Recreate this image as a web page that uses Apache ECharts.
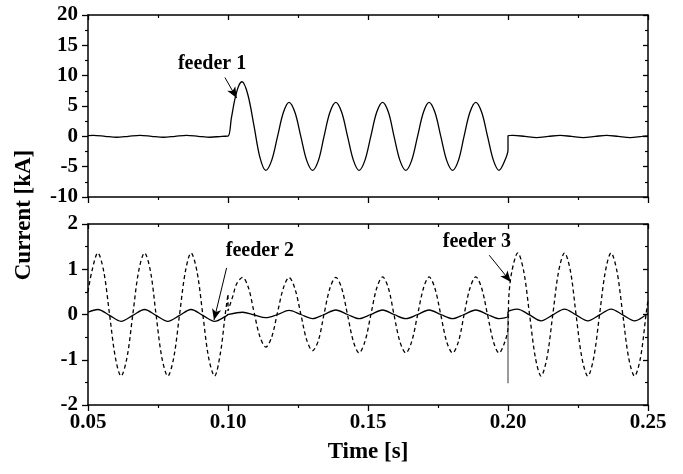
<!DOCTYPE html>
<html><head><meta charset="utf-8">
<script src="https://cdn.jsdelivr.net/npm/echarts@6/dist/echarts.min.js"></script>
<style>html,body{margin:0;padding:0;background:#fff}#c{width:683px;height:474px}</style>
</head><body><div id="c"></div>
<script>
// ---- data (time in s, current in kA) ----
const f1T = [0.0500,0.0519,0.0561,0.0602,0.0644,0.0686,0.0727,0.0769,0.0811,0.0852,0.0894,0.0936,0.0978,0.1000,
  0.1012,0.1025,0.1038,0.1050,0.1071,0.1093,0.1114,0.1135,
  0.1156,0.1177,0.1198,0.1218,0.1239,0.1260,0.1281,0.1302,0.1323,0.1343,0.1364,0.1385,0.1406,0.1427,0.1448,0.1468,
  0.1489,0.1510,0.1531,0.1552,0.1573,0.1593,0.1614,0.1635,0.1656,0.1677,0.1698,0.1718,0.1739,0.1760,0.1781,0.1802,
  0.1823,0.1843,0.1864,0.1885,0.1906,0.1927,0.1948,0.1968,0.1989,0.2000,
  0.2000,0.2019,0.2061,0.2102,0.2144,0.2186,0.2227,0.2269,0.2311,0.2352,0.2394,0.2436,0.2478,0.2500];
const f1V = [0.11,0.15,0,-0.15,0,0.15,0,-0.15,0,0.15,0,-0.15,0,0.02,
  3.0,6.2,8.3,9.0,6.86,1.7,-3.46,-5.6,
  -3.96,0,3.96,5.6,3.96,0,-3.96,-5.6,-3.96,0,3.96,5.6,3.96,0,-3.96,-5.6,
  -3.96,0,3.96,5.6,3.96,0,-3.96,-5.6,-3.96,0,3.96,5.6,3.96,0,-3.96,-5.6,
  -3.96,0,3.96,5.6,3.96,0,-3.96,-5.6,-3.96,-2.2,
  0.1,0.16,-0.02,-0.2,-0.02,0.16,-0.02,-0.2,-0.02,0.16,-0.02,-0.2,-0.02,0.08];

const f3T = [0.0500,0.0514,0.0535,0.0556,0.0577,0.0598,0.0618,0.0639,0.0660,0.0681,0.0702,0.0723,0.0743,0.0764,0.0785,0.0806,
  0.0827,0.0848,0.0868,0.0889,0.0910,0.0931,0.0952,0.0973,0.0990,0.1000,
  0.1000,0.1017,0.1031,0.1052,0.1073,0.1093,0.1114,0.1135,0.1156,0.1177,0.1198,0.1218,0.1239,0.1260,0.1281,0.1302,
  0.1323,0.1343,0.1364,0.1385,
  0.1406,0.1427,0.1448,0.1468,0.1489,0.1510,0.1531,0.1552,0.1573,0.1593,0.1614,0.1635,0.1656,0.1677,0.1698,0.1718,
  0.1739,0.1760,0.1781,0.1802,0.1823,0.1843,0.1864,0.1885,0.1906,0.1927,0.1948,0.1968,0.1989,0.2000,
  0.2003,0.2014,0.2035,0.2056,0.2077,0.2098,0.2118,0.2139,0.2160,0.2181,0.2202,0.2223,0.2243,0.2264,0.2285,0.2306,
  0.2327,0.2348,0.2368,0.2389,0.2410,0.2431,0.2452,0.2473,0.2493,0.2500];
const f3V = [0.5,0.96,1.36,0.96,0,-0.96,-1.36,-0.96,0,0.96,1.36,0.96,0,-0.96,-1.36,-0.96,
  0,0.96,1.36,0.96,0,-0.96,-1.36,-0.85,0,0.45,
  0.08,0.4,0.68,0.82,0.59,0.05,-0.49,-0.72,-0.5,0.05,0.59,0.82,0.57,0.01,-0.56,-0.80,
  -0.57,0.01,0.58,0.82,
  0.58,-0.01,-0.60,-0.85,-0.60,-0.01,0.58,0.83,0.58,-0.01,-0.60,-0.85,-0.60,-0.01,0.58,0.83,
  0.58,-0.01,-0.60,-0.85,-0.60,-0.01,0.58,0.83,0.58,-0.01,-0.60,-0.85,-0.60,-0.30,
  0.40,0.96,1.36,0.96,0,-0.96,-1.36,-0.96,0,0.96,1.36,0.96,0,-0.96,-1.36,-0.96,
  0,0.96,1.36,0.96,0,-0.96,-1.36,-0.96,0,0.32];

const f2T = [0.0500,0.0535,0.0577,0.0618,0.0660,0.0702,0.0743,0.0785,0.0827,0.0868,0.0910,0.0952,0.0994,0.1000,
  0.1052,0.1094,0.1135,0.1177,0.1218,0.1260,0.1302,0.1343,0.1385,0.1427,0.1468,0.1510,0.1552,0.1593,0.1635,0.1677,
  0.1718,0.1760,0.1802,0.1843,0.1885,0.1927,0.1968,0.2000,
  0.2000,0.2033,0.2077,0.2118,0.2160,0.2202,0.2243,0.2285,0.2327,0.2368,0.2410,0.2452,0.2493,0.2500];
const f2V = [0.05,0.11,-0.02,-0.15,-0.02,0.11,-0.02,-0.15,-0.02,0.11,-0.02,-0.15,-0.03,0.0,
  0.05,-0.01,-0.07,0.0,0.09,0.0,-0.09,0.0,0.1,0.0,-0.09,0.0,0.1,0.0,-0.09,0.0,
  0.1,0.0,-0.09,0.0,0.1,0.0,-0.09,-0.04,
  0.05,0.12,-0.01,-0.14,-0.01,0.12,-0.01,-0.14,-0.01,0.12,-0.01,-0.14,-0.01,0.02];

const spikeT = [0.2000,0.2000];
const spikeV = [0.06,-1.52];

// axis ranges / ticks
const xRange = [0.05, 0.25, 0.05];
const topRange = [-10, 20, 5];
const botRange = [-2, 2, 1];

// annotations: [label, textAt, arrowFrom, arrowTo]
const ann1 = ['feeder 1', [0.0943, 12.0], [0.0989, 9.7], [0.1031, 6.3]];
const ann2 = ['feeder 2', [0.1114, 1.40], [0.0995, 1.03], [0.0950, -0.12]];
const ann3 = ['feeder 3', [0.1889, 1.60], [0.1933, 1.31], [0.2010, 0.72]];

// ---- chart ----
const FONT = 'Liberation Serif';
const zip = (t, v) => t.map((x, i) => [x, v[i]]);
const black = '#000';

function xAx(grid, pos, showLabel) {
  const mirror = pos === 'top';
  return {
    type: 'value', gridIndex: grid, position: pos,
    min: xRange[0], max: xRange[1], interval: xRange[2],
    axisLine: {show: true, onZero: false, lineStyle: {color: black, width: 1.5}},
    axisTick: {show: true, inside: mirror, length: mirror ? 5 : 6, lineStyle: {color: black, width: 1.3}},
    minorTick: {show: true, splitNumber: 2, length: 3, lineStyle: {color: black, width: 1.2}},
    splitLine: {show: false},
    axisLabel: {show: showLabel, formatter: v => v.toFixed(2), fontFamily: FONT, fontWeight: 'bold',
      fontSize: 21, color: black, margin: 7},
    name: showLabel ? 'Time [s]' : '', nameLocation: 'middle', nameGap: 36,
    nameTextStyle: {fontFamily: FONT, fontWeight: 'bold', fontSize: 23, color: black}
  };
}
function yAx(grid, pos, r) {
  const mirror = pos === 'right';
  return {
    type: 'value', gridIndex: grid, position: pos,
    min: r[0], max: r[1], interval: r[2],
    axisLine: {show: true, onZero: false, lineStyle: {color: black, width: 1.5}},
    axisTick: {show: true, inside: mirror, length: mirror ? 5 : 6, lineStyle: {color: black, width: 1.3}},
    minorTick: {show: true, splitNumber: 2, length: 3, lineStyle: {color: black, width: 1.2}},
    splitLine: {show: false},
    axisLabel: {show: !mirror, fontFamily: FONT, fontWeight: 'bold', fontSize: 21, color: black, margin: 10}
  };
}
function annot(a) {
  return {
    markLine: {
      silent: true, symbol: ['none', 'arrow'], symbolSize: [7, 11],
      lineStyle: {color: black, width: 1, type: 'solid'}, label: {show: false},
      data: [[{coord: a[2]}, {coord: a[3]}]]
    },
    markPoint: {
      silent: true, symbol: 'circle', symbolSize: 1, itemStyle: {color: 'rgba(0,0,0,0)'},
      label: {show: true, position: 'inside', formatter: a[0], fontFamily: FONT, fontWeight: 'bold',
        fontSize: 20, color: black},
      data: [{coord: a[1]}]
    }
  };
}

const chart = echarts.init(document.getElementById('c'), null, {renderer: 'canvas'});
chart.setOption({
  animation: false,
  backgroundColor: '#fff',
  grid: [
    {left: 88, width: 560, top: 15, height: 182},
    {left: 88, width: 560, top: 224, height: 181}
  ],
  xAxis: [xAx(0, 'bottom', false), xAx(0, 'top', false), xAx(1, 'bottom', true), xAx(1, 'top', false)],
  yAxis: [yAx(0, 'left', topRange), yAx(0, 'right', topRange), yAx(1, 'left', botRange), yAx(1, 'right', botRange)],
  graphic: [{
    type: 'text', x: 24, y: 215, rotation: Math.PI / 2,
    style: {text: 'Current [kA]', fontFamily: FONT, fontWeight: 'bold', fontSize: 23, fill: black,
      align: 'center', verticalAlign: 'middle'}
  }],
  series: [
    Object.assign({
      name: 'feeder 1', type: 'line', xAxisIndex: 0, yAxisIndex: 0, data: zip(f1T, f1V),
      smooth: 0.33, showSymbol: false, lineStyle: {color: black, width: 1.3}
    }, annot(ann1)),
    Object.assign({
      name: 'feeder 3', type: 'line', xAxisIndex: 2, yAxisIndex: 2, data: zip(f3T, f3V),
      smooth: 0.33, showSymbol: false, lineStyle: {color: black, width: 1.3, type: [4, 3]}
    }, annot(ann3)),
    Object.assign({
      name: 'feeder 2', type: 'line', xAxisIndex: 2, yAxisIndex: 2, data: zip(f2T, f2V),
      smooth: 0.33, showSymbol: false, lineStyle: {color: black, width: 1.3}
    }, annot(ann2)),
    {
      name: 'spike', type: 'line', xAxisIndex: 2, yAxisIndex: 2, data: zip(spikeT, spikeV),
      showSymbol: false, lineStyle: {color: '#222', width: 0.9}
    }
  ]
});
</script></body></html>
